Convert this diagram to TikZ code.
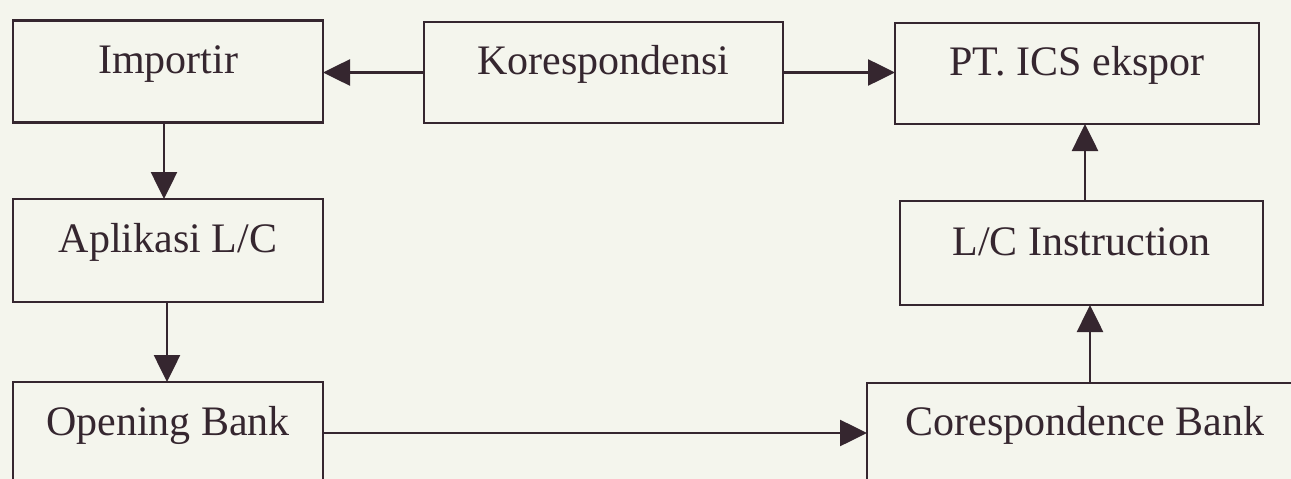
\documentclass[tikz,border=0pt]{standalone}
\usepackage{fontspec}
\setmainfont{Liberation Serif}
\usetikzlibrary{arrows.meta}
\definecolor{ink}{HTML}{35262F}
\definecolor{paper}{HTML}{F4F5ED}
\tikzset{
  boxnode/.style={draw=ink, line width=2.6pt, rectangle, inner sep=0pt, outer sep=0pt,
    text=ink, font=\fontsize{42pt}{48pt}\selectfont, text height=22pt, text depth=18pt,
    align=center},
  flow/.style={draw=ink, line width=2.6pt, -{Triangle[length=27pt,width=26pt]}}
}
\begin{document}
\begin{tikzpicture}[x=1pt,y=-1pt]
\useasboundingbox (0,0) rectangle (1291,479);
\fill[paper] (0,0) rectangle (1291,479);
\clip (0,0) rectangle (1291,479);
\node[boxnode, minimum width=310pt, minimum height=102pt] (imp) at (168,71.5) {Importir};
\node[boxnode, minimum width=359pt, minimum height=101pt] (kor) at (603.5,72.5) {Korespondensi};
\node[boxnode, minimum width=364pt, minimum height=101pt] (pt) at (1077,73.5) {PT. ICS ekspor};
\node[boxnode, minimum width=310pt, minimum height=103pt] (apl) at (168,250.5) {Aplikasi L/C};
\node[boxnode, minimum width=363pt, minimum height=104pt] (lci) at (1081.5,253) {L/C Instruction};
\node[boxnode, minimum width=310pt, minimum height=102pt] (opb) at (168,433) {Opening Bank};
\node[boxnode, minimum width=436pt, minimum height=101pt] (cob) at (1085,433.5) {Corespondence Bank};
\coordinate (a1) at ([xshift=-4pt]imp.south);
\coordinate (a2) at ([xshift=-1pt]apl.south);
\coordinate (a3) at ([xshift=5pt]cob.north);
\coordinate (a4) at ([xshift=3.5pt]lci.north);
\draw[flow] (kor.west) -- (kor.west -| imp.east);
\draw[flow] (kor.east) -- (kor.east -| pt.west);
\draw[flow] (a1) -- (a1 |- apl.north);
\draw[flow] (a2) -- (a2 |- opb.north);
\draw[flow] (opb.east) -- (opb.east -| cob.west);
\draw[flow] (a3) -- (a3 |- lci.south);
\draw[flow] (a4) -- (a4 |- pt.south);
\end{tikzpicture}
\end{document}
